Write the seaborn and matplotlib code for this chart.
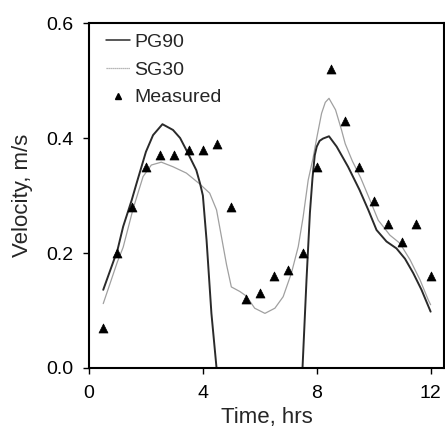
import matplotlib
matplotlib.use("Agg")
import matplotlib.pyplot as plt
from matplotlib.lines import Line2D
import seaborn as sns
import pandas as pd

# Measured data
meas_t = [0.5, 1.0, 1.5, 2.0, 2.5, 3.0, 3.5, 4.0, 4.5, 5.0, 5.5, 6.0, 6.5, 7.0,
          7.5, 8.0, 8.5, 9.0, 9.5, 10.0, 10.5, 11.0, 11.5, 12.0]
meas_v = [0.07, 0.20, 0.28, 0.35, 0.37, 0.37, 0.38, 0.38, 0.39, 0.28, 0.12, 0.13,
          0.16, 0.17, 0.20, 0.35, 0.52, 0.43, 0.35, 0.29, 0.25, 0.22, 0.25, 0.16]

# PG90 model (two segments, drops to zero between)
pg_t1 = [0.5, 1.0, 1.2, 1.5, 1.67, 2.0, 2.25, 2.58, 2.95, 3.2, 3.42, 3.77, 3.9,
         4.0, 4.13, 4.3, 4.48]
pg_v1 = [0.136, 0.205, 0.246, 0.292, 0.321, 0.376, 0.405, 0.424, 0.414, 0.400,
         0.379, 0.344, 0.321, 0.300, 0.222, 0.095, 0.0]
pg_t2 = [7.5, 7.64, 7.76, 7.85, 7.93, 8.0, 8.1, 8.22, 8.43, 8.7, 9.1, 9.5, 9.81,
         10.1, 10.45, 10.8, 11.1, 11.39, 11.68, 12.0]
pg_v2 = [0.0, 0.153, 0.27, 0.33, 0.37, 0.385, 0.395, 0.399, 0.403, 0.385, 0.35,
         0.31, 0.275, 0.24, 0.22, 0.208, 0.19, 0.165, 0.136, 0.098]

# SG30 model
sg_t = [0.5, 1.0, 1.2, 1.55, 1.9, 2.19, 2.54, 2.95, 3.42, 3.89, 4.24, 4.48, 4.65,
        4.83, 5.0, 5.3, 5.53, 5.82, 6.18, 6.53, 6.82, 7.11, 7.35, 7.52, 7.7, 7.87,
        8.0, 8.17, 8.3, 8.43, 8.66, 8.87, 9.0, 9.25, 9.55, 9.87, 10.16, 10.57,
        10.92, 11.28, 11.63, 11.92, 12.0]
sg_v = [0.112, 0.185, 0.21, 0.277, 0.333, 0.353, 0.358, 0.35, 0.339, 0.32, 0.304,
        0.275, 0.229, 0.18, 0.141, 0.133, 0.125, 0.104, 0.095, 0.104, 0.124, 0.165,
        0.211, 0.262, 0.327, 0.365, 0.40, 0.443, 0.462, 0.469, 0.449, 0.414, 0.39,
        0.36, 0.33, 0.292, 0.257, 0.231, 0.217, 0.188, 0.153, 0.118, 0.11]

x_ticks = [0, 4, 8, 12]
y_ticks = [0.0, 0.2, 0.4, 0.6]

sns.set_style("white")
plt.rcParams['font.family'] = ['Liberation Sans', 'DejaVu Sans']

pg_df = pd.DataFrame({
    "t": pg_t1 + pg_t2,
    "v": pg_v1 + pg_v2,
    "seg": [0] * len(pg_t1) + [1] * len(pg_t2),
})
sg_df = pd.DataFrame({"t": sg_t, "v": sg_v})
me_df = pd.DataFrame({"t": meas_t, "v": meas_v})

fig = plt.figure(figsize=(4.45, 4.29), dpi=100)
ax = fig.add_axes([89 / 445, 61 / 429, 355 / 445, 345 / 429])

sg_color = "#a0a0a0"
pg_color = "#2a2a2a"
sns.lineplot(data=sg_df, x="t", y="v", sort=False, estimator=None, ax=ax,
             color=sg_color, lw=0.9)
sns.lineplot(data=pg_df, x="t", y="v", units="seg", estimator=None, sort=False,
             ax=ax, color=pg_color, lw=1.4)
sns.scatterplot(data=me_df, x="t", y="v", marker="^", s=42, color="black",
                edgecolor="black", linewidth=0.5, ax=ax, zorder=5)

ax.set_xlim(0, 12.47)
ax.set_ylim(0, 0.6)
ax.set_xticks(x_ticks)
ax.set_xticklabels([str(t) for t in x_ticks])
ax.set_yticks(y_ticks)
ax.set_yticklabels([f"{v:.1f}" for v in y_ticks])
ax.tick_params(axis="both", which="both", direction="out", length=4.5, width=1,
               labelsize=14, color="black", labelcolor="black",
               bottom=True, left=True, top=False, right=False)
ax.tick_params(axis="y", pad=7)
ax.tick_params(axis="x", pad=8)
for sp in ax.spines.values():
    sp.set_visible(True)
    sp.set_color("black")
    sp.set_linewidth(1.5)
ax.set_xlabel("Time, hrs", fontsize=16, labelpad=3)
ax.set_ylabel("Velocity, m/s", fontsize=16, labelpad=9)
ax.grid(False)

handles = [
    Line2D([], [], color=pg_color, lw=1.1),
    Line2D([], [], color=sg_color, lw=0.9, linestyle=(0, (1, 0.6))),
    Line2D([], [], color="black", marker="^", linestyle="none", markersize=4.5),
]
ax.legend(handles, ["PG90", "SG30", "Measured"], loc="upper left",
          bbox_to_anchor=(17 / 355, 1 - 10 / 345), frameon=False, fontsize=14,
          handlelength=1.24, handletextpad=0.22, labelspacing=0.53,
          borderaxespad=0, borderpad=0)

fig.savefig("out.png", dpi=100)
